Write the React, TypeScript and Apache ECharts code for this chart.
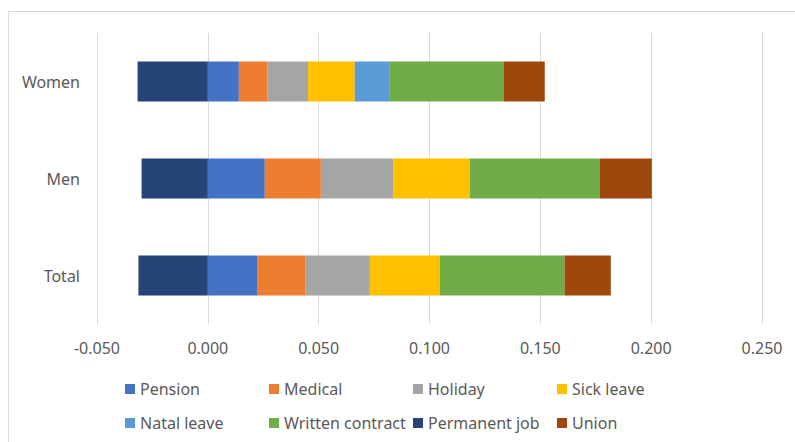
import React, { useEffect, useRef } from "react";
import * as echarts from "echarts";

const categories = ["Total", "Men", "Women"];
const seriesNames = [
  "Pension",
  "Medical",
  "Holiday",
  "Sick leave",
  "Natal leave",
  "Written contract",
  "Permanent job",
  "Union",
];
const pension = [0.0222, 0.0257, 0.014];
const medical = [0.0217, 0.0253, 0.0129];
const holiday = [0.0292, 0.0326, 0.0183];
const sickLeave = [0.0315, 0.0346, 0.0211];
const natalLeave = [0, 0, 0.0158];
const writtenContract = [0.0563, 0.0585, 0.0515];
const permanentJob = [-0.0313, -0.0299, -0.0317];
const union = [0.0209, 0.0236, 0.0184];
const xTicks = { min: -0.05, max: 0.25, interval: 0.05 };

const colors = [
  "#4472C4",
  "#ED7D31",
  "#A5A5A5",
  "#FFC000",
  "#5B9BD5",
  "#70AD47",
  "#264478",
  "#9E480E",
];

export default function App() {
  const ref = useRef<HTMLDivElement>(null);
  useEffect(() => {
    if (!ref.current) return;
    const chart = echarts.init(ref.current, null, { renderer: "svg" });
    const values = [
      pension,
      medical,
      holiday,
      sickLeave,
      natalLeave,
      writtenContract,
      permanentJob,
      union,
    ];
    const font = "'Noto Sans', sans-serif";
    const legendCommon = {
      orient: "horizontal" as const,
      left: 125,
      padding: 0,
      itemWidth: 10,
      itemHeight: 10,
      itemGap: 5,
      icon: "rect",
      textStyle: {
        color: "#595959",
        fontSize: 16,
        fontFamily: font,
        width: 124,
        lineHeight: 20,
      },
    };
    chart.setOption({
      animation: false,
      color: colors,
      grid: { left: 97, right: 33, top: 33, height: 291, containLabel: false },
      graphic: [
        {
          type: "rect",
          shape: { x: 8.5, y: 11.5, width: 800, height: 450 },
          style: { fill: "none", stroke: "#D9D9D9", lineWidth: 1 },
          silent: true,
        },
      ],
      legend: [
        { ...legendCommon, top: 379, data: seriesNames.slice(0, 4) },
        { ...legendCommon, top: 413, data: seriesNames.slice(4) },
      ],
      xAxis: {
        type: "value",
        min: xTicks.min,
        max: xTicks.max,
        interval: xTicks.interval,
        axisLine: { show: false },
        axisTick: { show: false },
        splitLine: { lineStyle: { color: "#D9D9D9", width: 1 } },
        axisLabel: {
          color: "#595959",
          fontSize: 16,
          fontFamily: font,
          margin: 16,
          formatter: (v: number) => v.toFixed(3),
        },
      },
      yAxis: {
        type: "category",
        data: categories,
        axisLine: { show: false },
        axisTick: { show: false },
        axisLabel: {
          color: "#595959",
          fontSize: 16,
          fontFamily: font,
          margin: 17,
        },
      },
      series: seriesNames.map((name, i) => ({
        name,
        type: "bar",
        stack: "total",
        barWidth: 40,
        data: values[i],
        itemStyle: { color: colors[i] },
      })),
    });
    return () => chart.dispose();
  }, []);
  return (
    <div
      ref={ref}
      style={{ position: "fixed", left: 0, top: 0, width: 795, height: 442, background: "#fff" }}
    />
  );
}
